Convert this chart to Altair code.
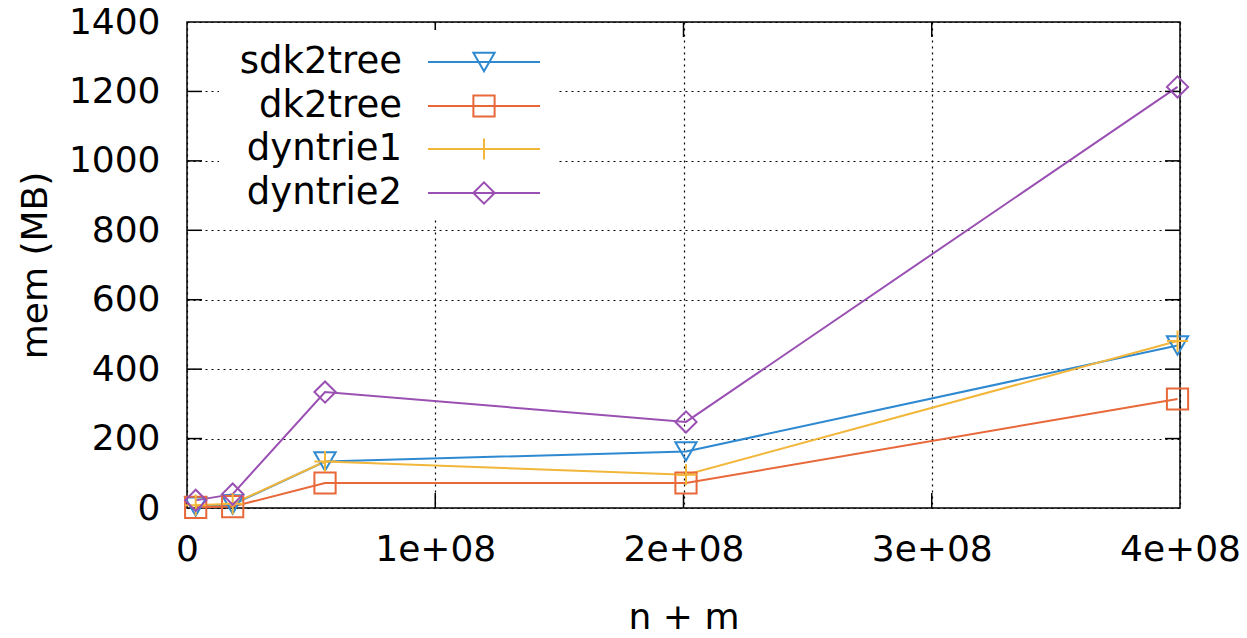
import altair as alt
import pandas as pd

series = ["sdk2tree", "dk2tree", "dyntrie1", "dyntrie2"]
colors = ["#2e89d0", "#e8683a", "#f2b63a", "#9a50b2"]
shapes = ["triangle-down", "square", "M0,-1L0,1M-1,0L1,0", "diamond"]

x_sdk2tree = [3.5e6, 1.84e7, 5.56e7, 2.01e8, 3.99e8]
y_sdk2tree = [4, 10, 134, 163, 468]
x_dk2tree = [3.5e6, 1.84e7, 5.56e7, 2.01e8, 3.99e8]
y_dk2tree = [2, 4, 72, 72, 314]
x_dyntrie1 = [3.5e6, 1.84e7, 5.56e7, 2.01e8, 3.99e8]
y_dyntrie1 = [8, 12, 134, 96, 481]
x_dyntrie2 = [3.5e6, 1.84e7, 5.56e7, 2.01e8, 3.99e8]
y_dyntrie2 = [22, 40, 334, 248, 1213]

x_ticks = [0, 1e8, 2e8, 3e8, 4e8]
y_ticks = [0, 200, 400, 600, 800, 1000, 1200, 1400]

xs = [x_sdk2tree, x_dk2tree, x_dyntrie1, x_dyntrie2]
ys = [y_sdk2tree, y_dk2tree, y_dyntrie1, y_dyntrie2]
rows = []
for s, xv, yv in zip(series, xs, ys):
    for a, b in zip(xv, yv):
        rows.append({"series": s, "x": a, "y": b})
df = pd.DataFrame(rows)

W, H = 993, 486
FONT = "DejaVu Sans"
FS = 36
LFS = 37

color_scale = alt.Scale(domain=series, range=colors)
shape_scale = alt.Scale(domain=series, range=shapes)

xscale = alt.Scale(domain=[0, 4e8], nice=False, zero=False)
yscale = alt.Scale(domain=[0, 1400], nice=False)

xaxis = alt.Axis(values=x_ticks, grid=True, gridColor="black", gridDash=[2, 4],
                 gridOpacity=1, gridWidth=1.2, ticks=False, domain=False,
                 labelFont=FONT, labelFontSize=FS, labelColor="black",
                 labelPadding=24, labelFlush=False,
                 labelExpr="datum.value == 0 ? '0' : (datum.value/1e8) + 'e+08'",
                 title="n + m", titleFont=FONT, titleFontSize=FS,
                 titleFontWeight="normal", titleColor="black", titlePadding=33)
yaxis = alt.Axis(values=y_ticks, grid=True, gridColor="black", gridDash=[2, 4],
                 gridOpacity=1, gridWidth=1.2, ticks=False, domain=False,
                 labelFont=FONT, labelFontSize=FS, labelColor="black",
                 labelPadding=27, labelFlush=False, format="d",
                 title="mem (MB)", titleFont=FONT, titleFontSize=FS,
                 titleFontWeight="normal", titleColor="black", titlePadding=14)

base = alt.Chart(df)
lines = base.mark_line(strokeWidth=2).encode(
    x=alt.X("x:Q", scale=xscale, axis=xaxis),
    y=alt.Y("y:Q", scale=yscale, axis=yaxis),
    color=alt.Color("series:N", scale=color_scale, legend=None),
    detail="series:N",
)
points = base.mark_point(filled=False, strokeWidth=2, size=450, opacity=1).encode(
    x=alt.X("x:Q", scale=xscale),
    y=alt.Y("y:Q", scale=yscale),
    color=alt.Color("series:N", scale=color_scale, legend=None),
    shape=alt.Shape("series:N", scale=shape_scale, legend=None),
)

# inward ticks (gnuplot style), mirrored
ytick_df = pd.DataFrame({"v": y_ticks[1:-1]})
xtick_df = pd.DataFrame({"v": x_ticks[1:-1]})
TL = 15
tl = alt.Chart(ytick_df).mark_rule(color="black", strokeWidth=1.5).encode(
    y=alt.Y("v:Q", scale=yscale), x=alt.value(0), x2=alt.value(TL))
tr = alt.Chart(ytick_df).mark_rule(color="black", strokeWidth=1.5).encode(
    y=alt.Y("v:Q", scale=yscale), x=alt.value(W - TL), x2=alt.value(W))
tb = alt.Chart(xtick_df).mark_rule(color="black", strokeWidth=1.5).encode(
    x=alt.X("v:Q", scale=xscale), y=alt.value(H - TL), y2=alt.value(H))
tt = alt.Chart(xtick_df).mark_rule(color="black", strokeWidth=1.5).encode(
    x=alt.X("v:Q", scale=xscale), y=alt.value(0), y2=alt.value(TL))

# opaque legend box
box = alt.Chart(pd.DataFrame({"a": [0]})).mark_rect(color="white").encode(
    x=alt.value(32), x2=alt.value(370), y=alt.value(8), y2=alt.value(196))

legend_layers = []
row_y = [40, 84, 127, 171]
for s, c, sh, ry in zip(series, colors, shapes, row_y):
    one = pd.DataFrame({"series": [s]})
    legend_layers.append(alt.Chart(one).mark_text(
        align="right", baseline="middle", font=FONT, fontSize=LFS, color="black").encode(
        text="series:N", x=alt.value(215), y=alt.value(ry)))
    legend_layers.append(alt.Chart(one).mark_rule(color=c, strokeWidth=2).encode(
        x=alt.value(241), x2=alt.value(353), y=alt.value(ry)))
    legend_layers.append(alt.Chart(one).mark_point(
        shape=sh, color=c, filled=False, strokeWidth=2, size=450, opacity=1).encode(
        x=alt.value(297), y=alt.value(ry)))

chart = alt.layer(lines, tl, tr, tb, tt, box, *legend_layers, points).properties(
    width=W, height=H,
    autosize=alt.AutoSizeParams(type="none"),
    padding={"left": 187, "top": 22, "right": 67, "bottom": 130},
    background="white",
).configure_view(stroke="black", strokeWidth=1.5)

chart.save("out.html", embed_options={"renderer": "svg", "actions": False})
